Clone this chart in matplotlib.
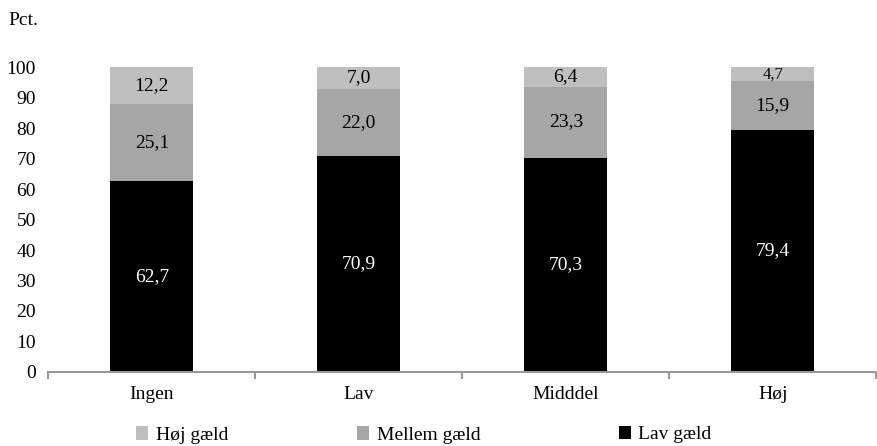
import matplotlib.pyplot as plt
from matplotlib.patches import Patch
import numpy as np

plt.rcParams['font.family'] = ['Liberation Serif', 'DejaVu Serif']

categories = ["Ingen", "Lav", "Midddel", "Høj"]
lav_gaeld = [62.7, 70.9, 70.3, 79.4]
mellem_gaeld = [25.1, 22.0, 23.3, 15.9]
hoej_gaeld = [12.2, 7.0, 6.4, 4.7]

series = [
    ("Lav gæld", lav_gaeld, "#000000", "white"),
    ("Mellem gæld", mellem_gaeld, "#a6a6a6", "black"),
    ("Høj gæld", hoej_gaeld, "#bfbfbf", "black"),
]


def fmt(v):
    return f"{v:.1f}".replace(".", ",")


fig = plt.figure(figsize=(8.78, 4.46), dpi=100)
ax = fig.add_axes([0.055, 0.166, 0.943, 0.711])

x = np.arange(len(categories))
bottom = np.zeros(len(categories))
for name, vals, color, txt in series:
    vals = np.array(vals)
    ax.bar(x, vals, width=0.4, bottom=bottom, color=color, edgecolor="none")
    for xi, b, v in zip(x, bottom, vals):
        size = 12 if v < 5 else 14
        ax.text(xi, b + v / 2, fmt(v), ha="center", va="center", color=txt, fontsize=size)
    bottom += vals

ax.set_xlim(-0.5, 3.5)
ax.set_ylim(0, 104)
ax.set_yticks(np.arange(0, 101, 10))
ax.set_xticks(x)
ax.set_xticklabels(categories)
ax.set_xticks(np.arange(-0.5, 3.6, 1), minor=True)
ax.tick_params(axis="x", which="major", length=0, pad=10, labelsize=14)
ax.tick_params(axis="x", which="minor", length=5, width=1.5, color="#999999")
ax.tick_params(axis="y", length=0, pad=9, labelsize=14)
for side in ["top", "right", "left"]:
    ax.spines[side].set_visible(False)
ax.spines["bottom"].set_color("#999999")
ax.spines["bottom"].set_linewidth(1.5)

fig.text(0.009, 0.955, "Pct.", ha="left", va="center", fontsize=14)

# legend entries sit at uneven spots, so one legend per entry
legend_pos = {"Høj gæld": (0.155, 0.024), "Mellem gæld": (0.407, 0.024), "Lav gæld": (0.705, 0.026)}
for name, vals, color, txt in series:
    fig.legend(handles=[Patch(facecolor=color, edgecolor="none")], labels=[name],
               loc="center left", bbox_to_anchor=legend_pos[name], frameon=False,
               fontsize=14, handlelength=0.6, handleheight=0.7, handletextpad=0.4,
               borderpad=0, borderaxespad=0)

fig.savefig("out.png", dpi=100)
